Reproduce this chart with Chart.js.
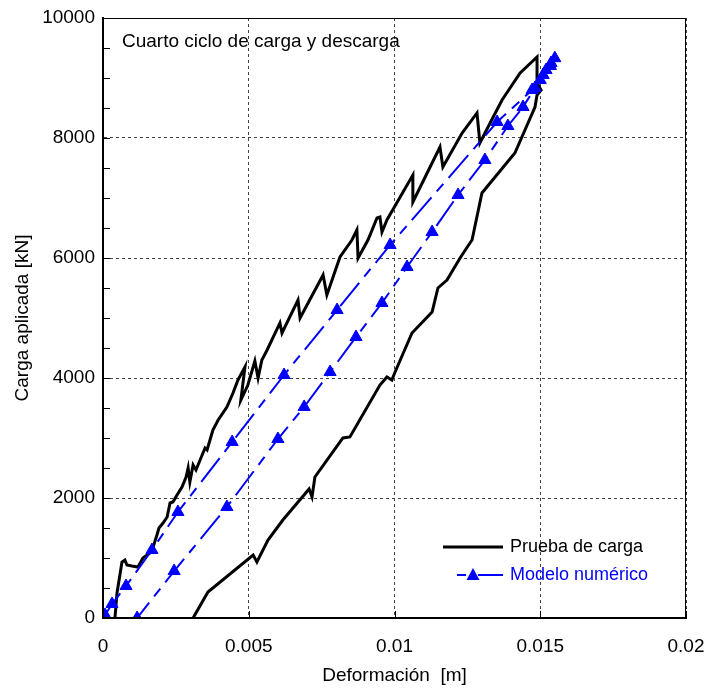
<!DOCTYPE html>
<html><head><meta charset="utf-8">
<script src="https://cdn.jsdelivr.net/npm/chart.js@4.4.0/dist/chart.umd.min.js"></script>
<style>html,body{margin:0;padding:0;background:#fff;}canvas{display:block;}</style>
</head><body>
<canvas id="c" width="709" height="688"></canvas>
<script>
// ---- data ----
const xTickLabels = ['0', '0.005', '0.01', '0.015', '0.02'];
const yTickLabels = ['0', '2000', '4000', '6000', '8000', '10000'];
const seriesNames = ['Prueba de carga', 'Modelo numérico'];
const annotationText = 'Cuarto ciclo de carga y descarga';
const xTitle = 'Deformación  [m]';
const yTitle = 'Carga aplicada [kN]';

// Prueba de carga (load test): loading branch then unloading branch
const pruebaX = [0.00041,0.00048,0.00058,0.00065,0.00075,0.00082,0.00099,0.00120,0.00137,0.00161,
  0.00172,0.00185,0.00192,0.00206,0.00220,0.00230,0.00240,0.00254,0.00271,0.00285,
  0.00292,0.00298,0.00309,0.00319,0.00350,0.00357,0.00367,0.00377,0.00395,0.00425,
  0.00446,0.00463,0.00487,0.00473,0.00497,0.00521,0.00532,0.00545,0.00563,0.00607,
  0.00614,0.00669,0.00676,0.00755,0.00768,0.00813,0.00854,0.00871,0.00875,0.00909,
  0.00940,0.00950,0.00957,0.00974,0.01063,0.01063,0.01156,0.01166,0.01232,0.01283,
  0.01293,0.01328,0.01369,0.01431,0.01489,
  0.01489,0.01503,0.01489,0.01482,0.01413,0.01300,0.01266,0.01252,0.01225,0.01180,
  0.01149,0.01129,0.01060,0.01002,0.00991,0.00974,0.00950,0.00847,0.00823,0.00727,
  0.00717,0.00707,0.00617,0.00566,0.00528,0.00515,0.00360,0.00309];
const pruebaY = [0,417,717,933,967,883,867,850,1000,1083,
  1183,1383,1500,1583,1683,1917,1933,2050,2183,2350,
  2500,2267,2550,2467,2833,2800,2967,3133,3300,3517,
  3750,3967,4183,3633,3883,4283,4000,4300,4467,4917,
  4750,5300,5000,5717,5383,6017,6300,6467,6000,6300,
  6667,6683,6433,6633,7383,6933,7850,7517,8083,8417,
  7917,8250,8633,9083,9350,
  8917,8800,8717,8517,7750,7083,6300,6200,6000,5633,
  5500,5100,4750,4100,3967,4017,3883,3017,3000,2350,
  2017,2150,1633,1300,933,1050,433,0];

// Modelo numérico: loading branch then unloading branch
const modeloX = [0,0.00007,0.00031,0.00079,0.00168,0.00257,0.00443,0.00621,0.00803,0.00985,
  0.01352,0.01472,0.01500,0.01520,0.01537,0.01550,
  0.01535,0.01510,0.01482,0.01441,0.01389,0.01310,0.01218,0.01129,0.01043,0.00957,
  0.00868,0.00779,0.00690,0.00600,0.00425,0.00244,0.00117];
const modeloY = [0,50,233,533,1133,1767,2933,4050,5133,6217,
  8267,8800,8967,9133,9250,9330,
  9200,9050,8833,8517,8200,7633,7050,6433,5850,5250,
  4683,4100,3517,2983,1850,783,0];

// ---- build ----
const FONT = "'Liberation Sans', Arial, sans-serif";
const BLUE = '#0000ff';
const toPts = (xs, ys) => xs.map((x, i) => ({x: x, y: ys[i]}));

const framePlugin = {
  id: 'frame',
  afterDraw(chart) {
    const {ctx, chartArea: a, scales: {x, y}} = chart;
    ctx.save();
    // inward ticks
    ctx.strokeStyle = '#000'; ctx.lineWidth = 1;
    ctx.beginPath();
    for (let v = 0; v <= 10000; v += 500) {
      const py = Math.round(y.getPixelForValue(v)) + 0.5;
      ctx.moveTo(a.left, py); ctx.lineTo(a.left + 7, py);
    }
    for (let i = 0; i < xTickLabels.length; i++) {
      const px = Math.round(x.getPixelForValue(i * 0.005)) + 0.5;
      ctx.moveTo(px, a.bottom); ctx.lineTo(px, a.bottom - 7);
    }
    ctx.stroke();
    // box
    ctx.lineWidth = 1;
    ctx.beginPath();
    ctx.moveTo(a.left, a.top + 0.5); ctx.lineTo(a.right, a.top + 0.5);
    ctx.moveTo(a.right - 0.5, a.top); ctx.lineTo(a.right - 0.5, a.bottom);
    ctx.stroke();
    ctx.lineWidth = 2;
    ctx.beginPath();
    ctx.moveTo(a.left, a.top); ctx.lineTo(a.left, a.bottom);
    ctx.lineTo(a.right, a.bottom);
    ctx.stroke();

    // annotation
    ctx.fillStyle = '#000';
    ctx.font = '19px ' + FONT;
    ctx.textBaseline = 'middle';
    ctx.textAlign = 'left';
    ctx.fillText(annotationText, a.left + 19, a.top + 24);

    // legend
    const lx = a.left + 340, ly1 = a.top + 529, ly2 = a.top + 557;
    ctx.font = '18px ' + FONT;
    ctx.strokeStyle = '#000'; ctx.lineWidth = 3;
    ctx.beginPath(); ctx.moveTo(lx, ly1); ctx.lineTo(lx + 60, ly1); ctx.stroke();
    ctx.fillText(seriesNames[0], lx + 67, ly1);
    ctx.strokeStyle = BLUE; ctx.lineWidth = 2;
    ctx.beginPath(); ctx.moveTo(lx + 14, ly2); ctx.lineTo(lx + 23, ly2);
    ctx.moveTo(lx + 35, ly2); ctx.lineTo(lx + 60, ly2); ctx.stroke();
    ctx.fillStyle = BLUE;
    ctx.beginPath();
    ctx.moveTo(lx + 30, ly2 - 7); ctx.lineTo(lx + 36.5, ly2 + 5); ctx.lineTo(lx + 23.5, ly2 + 5);
    ctx.closePath(); ctx.fill();
    ctx.fillText(seriesNames[1], lx + 67, ly2);
    ctx.restore();
  }
};

new Chart(document.getElementById('c'), {
  type: 'scatter',
  data: {
    datasets: [
      {
        label: seriesNames[0],
        data: toPts(pruebaX, pruebaY),
        showLine: true,
        borderColor: '#000',
        borderWidth: 3,
        pointRadius: 0,
        tension: 0,
        borderJoinStyle: 'miter',
        order: 2
      },
      {
        label: seriesNames[1],
        data: toPts(modeloX, modeloY),
        showLine: true,
        borderColor: BLUE,
        borderWidth: 2,
        borderDash: [30, 8, 10, 8],
        pointStyle: 'triangle',
        pointRadius: 7,
        pointBackgroundColor: BLUE,
        pointBorderColor: BLUE,
        pointBorderWidth: 1,
        tension: 0,
        order: 1
      }
    ]
  },
  options: {
    responsive: false,
    animation: false,
    devicePixelRatio: 1,
    layout: {padding: {left: 0, right: 23, top: 18, bottom: 0}},
    plugins: {legend: {display: false}, tooltip: {enabled: false}},
    scales: {
      x: {
        type: 'linear', min: 0, max: 0.02,
        afterFit(s) { s.height = 70; },
        ticks: {
          stepSize: 0.005, maxRotation: 0, padding: 1, color: '#000',
          font: {family: FONT, size: 19},
          callback: (v, i) => xTickLabels[i]
        },
        grid: {color: '#444', lineWidth: 1, drawTicks: true, tickLength: 16, tickColor: 'rgba(0,0,0,0)'},
        border: {display: true, color: '#000', width: 2, dash: [3, 3]},
        title: {display: true, text: xTitle, color: '#000', font: {family: FONT, size: 19}, padding: {top: 0, bottom: 1}}
      },
      y: {
        type: 'linear', min: 0, max: 10000,
        afterFit(s) { s.width = 103; },
        ticks: {
          stepSize: 2000, padding: 1, color: '#000',
          font: {family: FONT, size: 19},
          callback: (v, i) => yTickLabels[i]
        },
        grid: {color: '#444', lineWidth: 1, drawTicks: true, tickLength: 7, tickColor: 'rgba(0,0,0,0)'},
        border: {display: true, color: '#000', width: 2, dash: [3, 3]},
        title: {display: true, text: yTitle, color: '#000', font: {family: FONT, size: 19}, padding: {top: 11, bottom: 0}}
      }
    }
  },
  plugins: [framePlugin]
});
</script>
</body></html>
